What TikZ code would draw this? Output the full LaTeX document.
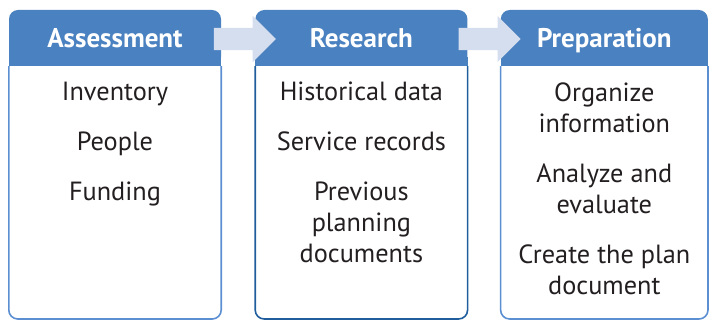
\documentclass[tikz,border=0pt]{standalone}
\usepackage{fontspec}
\setmainfont{PT Sans}
\usepackage{xcolor}
\definecolor{headBlue}{HTML}{4A81C0}
\definecolor{edgeBlue}{HTML}{5B8FD2}
\definecolor{edgeDark}{HTML}{1F5D9C}
\definecolor{arrowFill}{HTML}{D5DEEE}
\definecolor{textDark}{HTML}{231F20}
\usepackage{tikz}
\usetikzlibrary{positioning,calc,shapes.arrows}
\tikzset{%
  stageHead/.style={%
    rectangle,
    rounded corners=9pt,
    fill=headBlue,
    text=white,
    font=\fontsize{27}{32}\selectfont\bfseries,
    text height=19pt,
    text depth=0pt,
    minimum width=212pt,
    minimum height=56pt,
    inner sep=0pt
  },
  stageText/.style={%
    align=center,
    text=textDark,
    font=\fontsize{26.3}{31}\selectfont,
    inner sep=0pt
  },
  stageEdge/.style={%
    draw=edgeBlue,
    line width=1.6pt,
    rounded corners=9pt
  },
  stageArrow/.style={%
    single arrow,
    fill=arrowFill,
    inner xsep=0pt,
    inner ysep=11pt,
    single arrow head extend=12pt,
    minimum height=62pt
  }
}

\begin{document}
\begin{tikzpicture}[x=1pt,y=1pt]
  \useasboundingbox (0,0) rectangle (710,-320);
  \coordinate (floor) at (0,-319);

  % headers
  \node[stageHead] (h1) at (115,-38) {Assessment};
  \node[stageHead, right=34pt of h1] (h2) {Research};
  \node[stageHead, right=33pt of h2, minimum width=207pt] (h3) {Preparation};

  % square off the lower corners of the headers
  \fill[headBlue] ([yshift=9pt]h1.south west) rectangle (h1.south east);
  \fill[headBlue] ([yshift=9pt]h2.south west) rectangle (h2.south east);
  \fill[headBlue] ([yshift=9pt]h3.south west) rectangle (h3.south east);

  % column bodies
  \draw[stageEdge] (h1.south west) -- (h1.south west |- floor) -- (h1.south east |- floor) -- (h1.south east);
  \draw[stageEdge, draw=edgeDark] (h2.south west) -- (h2.south west |- floor) -- (h2.south east |- floor) -- (h2.south east);
  \draw[stageEdge] (h3.south west) -- (h3.south west |- floor) -- (h3.south east |- floor) -- (h3.south east);

  \node[stageText, below=16pt of h1] (t1) {Inventory\\[19pt]People\\[19pt]Funding};
  \node[stageText, below=15pt of h2] (t2) {Historical data\\[19pt]Service records\\[19pt]Previous\\planning\\documents};
  \node[stageText, below=16pt of h3] (t3) {Organize\\information\\[19pt]Analyze and\\evaluate\\[19pt]Create the plan\\document};

  % arrows between the stages
  \node[stageArrow] (a12) at ($(h1.east)!0.5!(h2.west)+(1,-1)$) {};
  \node[stageArrow] (a23) at ($(h2.east)!0.5!(h3.west)+(0,-1)$) {};
\end{tikzpicture}
\end{document}
